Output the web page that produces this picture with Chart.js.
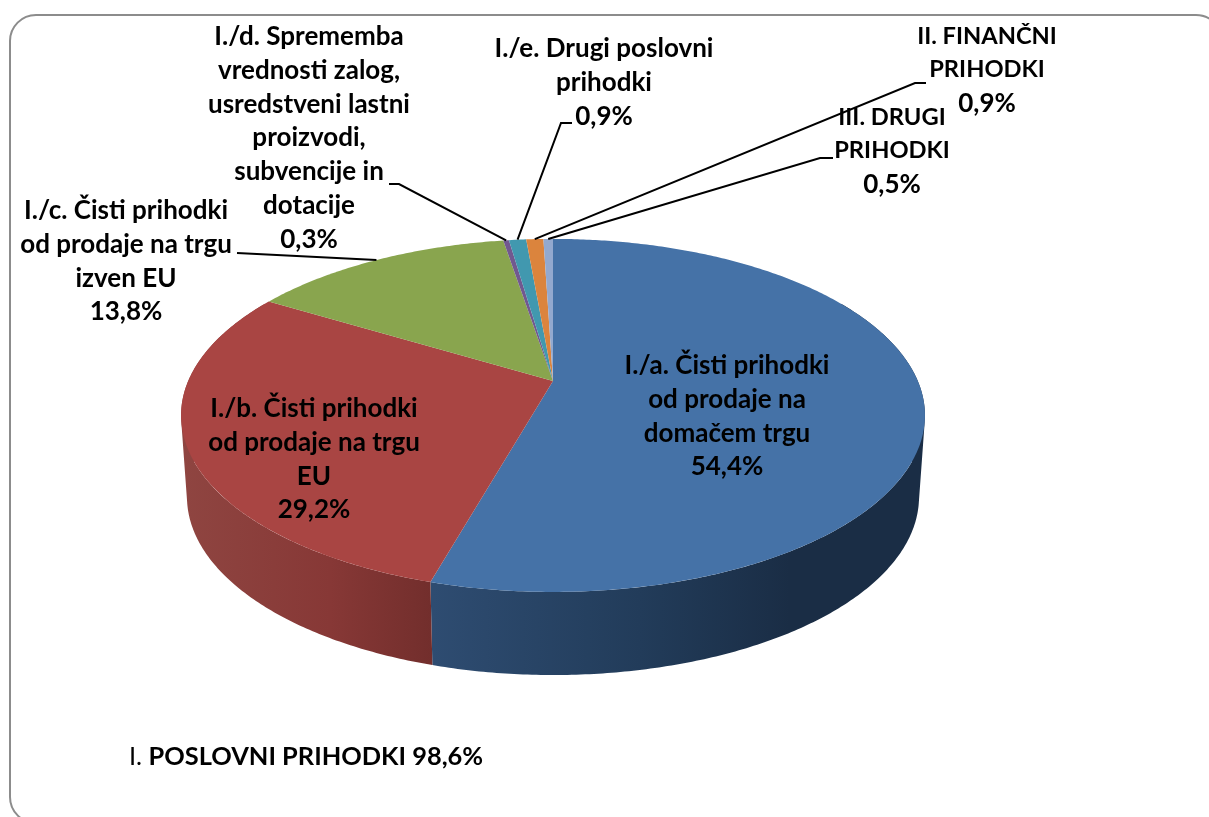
<!DOCTYPE html>
<html lang="sl">
<head>
<meta charset="utf-8">
<title>Prihodki</title>
<script src="https://cdn.jsdelivr.net/npm/chart.js@4"></script>
<style>
    html, body { margin: 0; padding: 0; background: #fff; overflow: hidden; }
    canvas { display: block; }
</style>
</head>
<body>
<canvas id="pieChart" width="1209" height="817"></canvas>
<script>
// --- Data ---
const categories = [
    "I./a. Čisti prihodki od prodaje na domačem trgu",
    "I./b. Čisti prihodki od prodaje na trgu EU",
    "I./c. Čisti prihodki od prodaje na trgu izven EU",
    "I./d. Sprememba vrednosti zalog, usredstveni lastni proizvodi, subvencije in dotacije",
    "I./e. Drugi poslovni prihodki",
    "II. FINANČNI PRIHODKI",
    "III. DRUGI PRIHODKI"
];
const values = [54.4, 29.2, 13.8, 0.3, 0.9, 0.9, 0.5];
const labelLines = [
    ["I./a. Čisti prihodki", "od prodaje na", "domačem trgu"],
    ["I./b. Čisti prihodki", "od prodaje na trgu", "EU"],
    ["I./c. Čisti prihodki", "od prodaje na trgu", "izven EU"],
    ["I./d. Sprememba", "vrednosti zalog,", "usredstveni lastni", "proizvodi,", "subvencije in", "dotacije"],
    ["I./e. Drugi poslovni", "prihodki"],
    ["II. FINANČNI", "PRIHODKI"],
    ["III. DRUGI", "PRIHODKI"]
];
const footerPrefix = "I. ";
const footerText = "POSLOVNI PRIHODKI 98,6%";

// --- Styles and layout ---
const colors = ["#4572A7", "#A94543", "#89A54E", "#71588F", "#4198AF", "#DB843D", "#93A9CF"];
const wallStops = [
    [[433, "#2e4c71"], [640, "#223c5a"], [790, "#1a2d45"], [925, "#1a2d45"]],
    [[181, "#8f4541"], [330, "#873836"], [433, "#722e2c"]]
];
const FONT = '"Lato", "Carlito", sans-serif';
const FONT_SIZE = 26;
const CAPS_SIZE = 23.7;
const FOOTER_SIZE = 25.4;
const LINE_HEIGHT = 33.7;
// label centre x and centre y of the first line, one per slice
const labelPos = [
    [727, 366], [314, 409], [126, 211], [309, 37], [604, 49], [987, 36], [892, 117]
];
// leader line: text end, then elbow; the last point comes from the slice itself
const leaders = [
    null,
    null,
    [[237, 253]],
    [[389, 184], [399, 184]],
    [[572, 123], [561, 123]],
    [[926, 83], [915, 83]],
    [[833, 158], [820, 158]]
];

// perspective of the pie: top face and bottom rim
const CX = 553;
const PERSP = -0.195;
const TOP = { y: 381, a: 364.8, b: 169.8 };
const BOTTOM = { y: 462, a: 359, b: 171.5 };

function project(angle, face) {
    const u = Math.cos(angle);
    const v = Math.sin(angle);
    const w = 1 + PERSP * v;
    return [CX + face.a * u / w, face.y + face.b * v / w];
}

function traceRim(ctx, from, to, face) {
    const steps = Math.max(2, Math.ceil(Math.abs(to - from) / 0.01));
    for (let i = 0; i <= steps; i++) {
        const p = project(from + (to - from) * i / steps, face);
        ctx.lineTo(p[0], p[1]);
    }
}

function addWallQuad(ctx, a0, a1) {
    const quad = [project(a0, TOP), project(a1, TOP), project(a1, BOTTOM), project(a0, BOTTOM)];
    // keep every quad turning the same way, or overlaps cancel out when filled
    let area = 0;
    quad.forEach((p, n) => {
        const q = quad[(n + 1) % 4];
        area += p[0] * q[1] - q[0] * p[1];
    });
    if (area < 0) quad.reverse();
    ctx.moveTo(quad[0][0], quad[0][1]);
    quad.slice(1).forEach(p => ctx.lineTo(p[0], p[1]));
    ctx.closePath();
}

function drawWalls(ctx, arcs) {
    // only the front of the wall can be seen, so the back is left out
    const visibleFrom = -Math.PI / 2 + Math.PI / 3;
    const visibleTo = -Math.PI / 2 + Math.PI * 5 / 3;

    arcs.forEach((arc, i) => {
        const from = Math.max(arc.startAngle, visibleFrom);
        const to = Math.min(arc.endAngle, visibleTo);
        if (to <= from || !wallStops[i]) return;

        const stops = wallStops[i];
        const x0 = stops[0][0];
        const x1 = stops[stops.length - 1][0];
        const gradient = ctx.createLinearGradient(x0, 0, x1, 0);
        stops.forEach(s => gradient.addColorStop((s[0] - x0) / (x1 - x0), s[1]));

        const steps = Math.ceil((to - from) / 0.01);
        ctx.beginPath();
        for (let n = 0; n < steps; n++) {
            addWallQuad(ctx, from + (to - from) * n / steps, from + (to - from) * (n + 1) / steps);
        }
        ctx.fillStyle = gradient;
        ctx.fill();
    });
}

function drawTopFace(ctx, arcs) {
    arcs.forEach(arc => {
        ctx.beginPath();
        ctx.moveTo(CX, TOP.y);
        traceRim(ctx, arc.startAngle, arc.endAngle, TOP);
        ctx.closePath();
        ctx.fillStyle = arc.options.backgroundColor;
        ctx.fill();
    });
}

function drawLabels(ctx, arcs) {
    ctx.fillStyle = "#000";
    ctx.textBaseline = "middle";
    ctx.textAlign = "center";

    labelLines.forEach((lines, i) => {
        const all = lines.concat(values[i].toFixed(1).replace(".", ",") + "%");
        all.forEach((line, n) => {
            // Lato capitals run wider than the original font
            const size = /[A-Z]{3}/.test(line) ? CAPS_SIZE : FONT_SIZE;
            ctx.font = `bold ${size}px ${FONT}`;
            ctx.fillText(line, labelPos[i][0], labelPos[i][1] + n * LINE_HEIGHT);
        });
    });

    // leader lines
    ctx.strokeStyle = "#000";
    ctx.lineWidth = 2;
    leaders.forEach((points, i) => {
        if (!points) return;
        const arc = arcs[i];
        const end = project((arc.startAngle + arc.endAngle) / 2, TOP);
        ctx.beginPath();
        ctx.moveTo(points[0][0], points[0][1]);
        points.slice(1).forEach(p => ctx.lineTo(p[0], p[1]));
        ctx.lineTo(end[0], end[1]);
        ctx.stroke();
    });

    // footer
    ctx.textAlign = "left";
    ctx.font = `${FOOTER_SIZE}px ${FONT}`;
    ctx.fillText(footerPrefix, 129, 757);
    const prefixWidth = ctx.measureText(footerPrefix).width;
    ctx.font = `bold ${FOOTER_SIZE}px ${FONT}`;
    ctx.fillText(footerText, 129 + prefixWidth, 757);
}

// --- Draws the frame and the 3D pie from the library's own arcs ---
const pie3d = {
    id: "pie3d",
    beforeDraw(chart) {
        const ctx = chart.ctx;
        ctx.save();
        ctx.fillStyle = "#fff";
        ctx.fillRect(0, 0, chart.width, chart.height);
        ctx.strokeStyle = "#8c8c8c";
        ctx.lineWidth = 2;
        ctx.beginPath();
        ctx.roundRect(10, 15, 1212, 808, 26);
        ctx.stroke();
        ctx.restore();
    },
    beforeDatasetsDraw(chart) {
        const ctx = chart.ctx;
        const arcs = chart.getDatasetMeta(0).data;
        ctx.save();
        drawWalls(ctx, arcs);
        drawTopFace(ctx, arcs);
        drawLabels(ctx, arcs);
        ctx.restore();
        return false;
    }
};

new Chart(document.getElementById("pieChart").getContext("2d"), {
    type: "pie",
    data: {
        labels: categories,
        datasets: [{
            data: values,
            backgroundColor: colors,
            borderWidth: 0
        }]
    },
    options: {
        responsive: false,
        animation: false,
        plugins: {
            legend: { display: false },
            tooltip: { enabled: false }
        }
    },
    plugins: [pie3d]
});
</script>
</body>
</html>
